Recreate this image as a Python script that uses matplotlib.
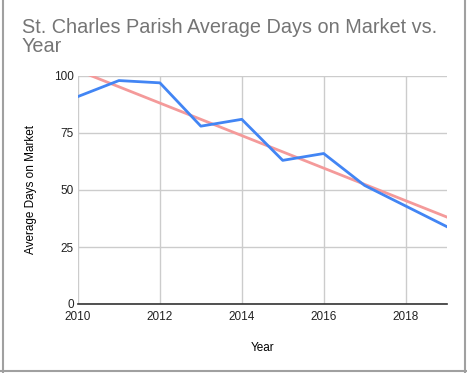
import numpy as np
import matplotlib
matplotlib.use("Agg")
import matplotlib.pyplot as plt
from matplotlib.lines import Line2D

# Datos
years = [2010, 2011, 2012, 2013, 2014, 2015, 2016, 2017, 2018, 2019]
days_on_market = [91, 98, 97, 78, 81, 63, 66, 52, 43, 34]
x_ticks = [2010, 2012, 2014, 2016, 2018]
y_ticks = [0, 25, 50, 75, 100]

plt.rcParams["font.family"] = ["Liberation Sans", "DejaVu Sans"]

fig = plt.figure(figsize=(4.67, 3.73), dpi=100)
ax = fig.add_axes([78 / 467, 1 - 304 / 373, (446.5 - 78) / 467, (304 - 76) / 373])

# Linea de tendencia (regresion lineal)
slope, intercept = np.polyfit(years, days_on_market, 1)
trend = [slope * y + intercept for y in years]
ax.plot(years, trend, color="#f49a9a", lw=2, zorder=2)
ax.plot(years, days_on_market, color="#4285f4", lw=2, zorder=3)

ax.set_xlim(2010, 2019)
ax.set_ylim(0, 100)
ax.set_xticks(x_ticks)
ax.set_yticks(y_ticks)
ax.grid(True, color="#cccccc", lw=1)
ax.set_axisbelow(True)
for side in ["top", "right", "left"]:
    ax.spines[side].set_visible(False)
ax.spines["bottom"].set_color("#333333")
ax.spines["bottom"].set_linewidth(1.2)
ax.tick_params(length=0, labelsize=8.5, colors="#222222")
ax.tick_params(axis="x", pad=5)
ax.tick_params(axis="y", pad=3)

ax.set_xlabel("Year", fontsize=8.5, labelpad=14)
ax.set_ylabel("Average Days on Market", fontsize=8.5, labelpad=12)

fig.text(22 / 467, 1 - 18 / 373, "St. Charles Parish Average Days on Market vs.\nYear",
         fontsize=14.3, color="#757575", va="top", ha="left", linespacing=1.0)

# Borde de la celda (captura de la hoja de calculo)
border = "#a0a0a0"
fig.add_artist(Line2D([2.5 / 467, 2.5 / 467], [0, 1], color=border, lw=1.5))
fig.add_artist(Line2D([465 / 467, 465 / 467], [0, 1], color=border, lw=1.5))
fig.add_artist(Line2D([0, 1], [1 - 371 / 373, 1 - 371 / 373], color=border, lw=1.5))

fig.savefig("out.png", dpi=100)
